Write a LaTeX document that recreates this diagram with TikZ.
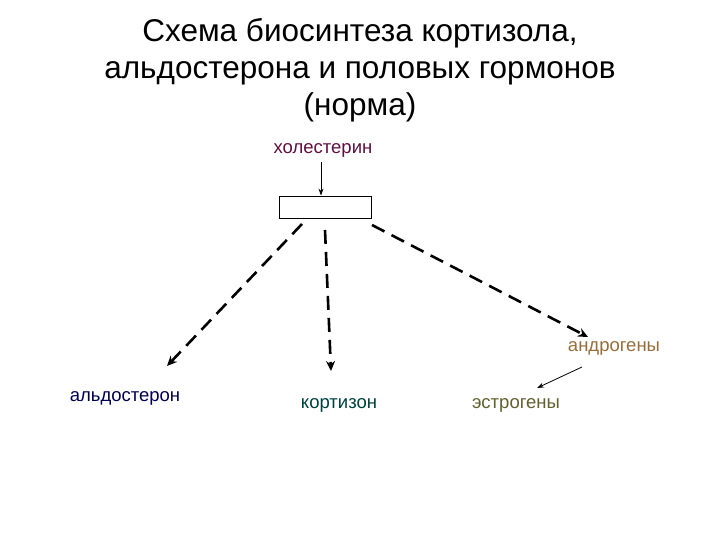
\documentclass[tikz,border=0pt]{standalone}
\usepackage{fontspec}
\setmainfont{Liberation Sans}
\usetikzlibrary{arrows.meta}
\definecolor{cmag}{RGB}{96,16,64}
\definecolor{cnavy}{RGB}{0,0,80}
\definecolor{cteal}{RGB}{0,64,64}
\definecolor{colive}{RGB}{96,96,48}
\definecolor{cbrown}{RGB}{150,110,60}
\begin{document}
\begin{tikzpicture}[x=1pt,y=-1pt,
  lbl/.style={font=\fontsize{18.5}{22}\selectfont, inner sep=0pt},
  dasharrow/.style={line width=2.6pt, dash pattern=on 14pt off 8pt, -{Stealth[length=10pt,width=9pt]}},
  thinarrow/.style={line width=0.8pt, -{Stealth[length=7pt,width=5pt]}}]
\useasboundingbox[fill=white] (0,0) rectangle (720,540);
\node[align=center, font=\fontsize{31.5}{37}\selectfont] (title) at (360,70) {Схема биосинтеза кортизола,\\альдостерона и половых гормонов\\(норма)};
\node[lbl, text=cmag] (chol) at (323,150) {холестерин};
\node[draw, line width=0.8pt, minimum width=92pt, minimum height=22pt, inner sep=0pt] (box) at (325,207) {};
\coordinate (a1) at (321,162);
\draw[thinarrow] (a1) -- (box.north -| a1);
\node[lbl, text=cnavy] (ald) at (125,398) {альдостерон};
\node[lbl, text=cteal] (kor) at (339,405) {кортизон};
\node[lbl, text=colive] (est) at (516,405) {эстрогены};
\node[lbl, text=cbrown] (andr) at (614,348) {андрогены};
\coordinate (s1) at (302,224); \coordinate (e1) at (167,366);
\coordinate (s2) at (325,230); \coordinate (e2) at (331,371);
\coordinate (s3) at (372,225); \coordinate (e3) at (588,337);
\draw[dasharrow] (s1) -- (e1);
\draw[dasharrow] (s2) -- (e2);
\draw[dasharrow] (s3) -- (e3);
\coordinate (t1) at (582,367); \coordinate (t2) at (537,388);
\draw[thinarrow] (t1) -- (t2);
\end{tikzpicture}
\end{document}
